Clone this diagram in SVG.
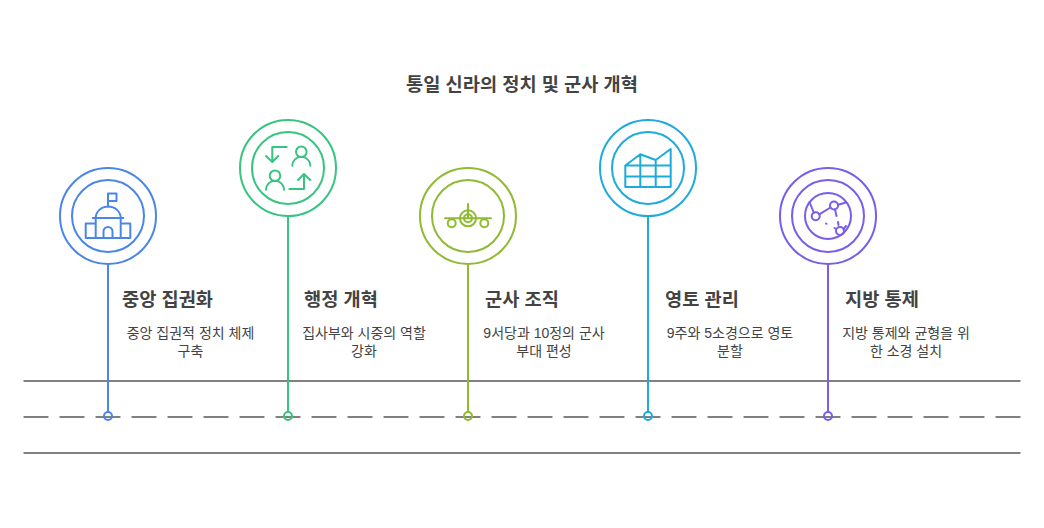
<svg xmlns="http://www.w3.org/2000/svg" width="1044" height="528" viewBox="0 0 1044 528">
<style>
text{font-family:"Liberation Sans","Noto Sans CJK KR",sans-serif;fill:#434343;text-anchor:middle}
.t{font-size:18.67px;font-weight:700}
.h{font-size:18.67px;font-weight:700}
.d{font-size:14px;font-weight:400}
.r{fill:none;stroke:#808080;stroke-width:2}
.o{fill:none;stroke-width:2;stroke-linecap:round;stroke-linejoin:round}
.b{stroke:#4a86e8}.g{stroke:#37c481}.l{stroke:#8fba32}.c{stroke:#1eabdb}.p{stroke:#7a5de8}
.v{stroke-width:2;fill:none}
</style>
<rect width="1044" height="528" fill="#fff"/>
<text class="t" x="522" y="91">통일 신라의 정치 및 군사 개혁</text>
<g id="road">
<path class="r" d="M23.5 381H1020.5M23.5 453H1020.5"/>
<path class="r" d="M23.5 417H1020.5" stroke-dasharray="25 11"/>
</g>
<g id="connectors">
<path class="v b" d="M108 264V412"/>
<path class="v g" d="M288 216V412"/>
<path class="v l" d="M468 264V412"/>
<path class="v c" d="M648 216V412"/>
<path class="v p" d="M828 264V412"/>
</g>
<g id="node1">
<circle class="o b" cx="108" cy="216" r="48"/><circle class="o b" cx="108" cy="216" r="36"/>
<path class="o b" d="M108 206.7V193.5H116.5V201H108M92.7 218H123.3M95.7 218A12.5 11.5 0 0 1 120.7 218V238M95.7 218V238M95.7 223.5H85.7V238H130.3V223.5H120.7M103.5 238V231.5A4.5 4.5 0 0 1 112.5 231.5V238"/>
<circle class="o b" cx="108" cy="416" r="4"/>
<text class="h" x="167.5" y="306">중앙 집권화</text>
<text class="d" x="190.5" y="337.5">중앙 집권적 정치 체제</text>
<text class="d" x="190.5" y="356">구축</text>
</g>
<g id="node2">
<circle class="o g" cx="288" cy="168" r="48"/><circle class="o g" cx="288" cy="168" r="36"/>
<path class="o g" d="M286.7 147H272.3V161.5M266 156L272.3 162L278.3 156M289.3 189H304V174.5M298 180L304 174L310.3 180"/>
<circle class="o g" cx="301.3" cy="151.7" r="5.3"/><path class="o g" d="M292.3 165.7A9 9 0 0 1 310.3 165.7"/>
<circle class="o g" cx="275" cy="175.7" r="5.3"/><path class="o g" d="M266 189.7A9 9 0 0 1 284 189.7"/>
<circle class="o g" cx="288" cy="416" r="4"/>
<text class="h" x="341" y="306">행정 개혁</text>
<text class="d" x="364" y="337.5">집사부와 시중의 역할</text>
<text class="d" x="364" y="356">강화</text>
</g>
<g id="node3">
<circle class="o l" cx="468" cy="216" r="48"/><circle class="o l" cx="468" cy="216" r="36"/>
<path class="o l" d="M468 204V218.3M445 218.3H491"/>
<circle class="o l" cx="468" cy="218.3" r="8"/><circle class="o l" cx="468" cy="218.3" r="4"/>
<circle class="o l" cx="451.7" cy="223.3" r="4"/><circle class="o l" cx="484.3" cy="223.3" r="4"/>
<circle class="o l" cx="468" cy="416" r="4"/>
<text class="h" x="522" y="306">군사 조직</text>
<text class="d" x="544" y="337.5">9서당과 10정의 군사</text>
<text class="d" x="544" y="356">부대 편성</text>
</g>
<g id="node4">
<circle class="o c" cx="648" cy="168" r="48"/><circle class="o c" cx="648" cy="168" r="36"/>
<path class="o c" d="M625.3 165.5L640.3 154.3L655.7 160L670.7 149V187H625.3ZM625.3 165.5H670.7M625.3 176.5H670.7M640.3 154.3V187M655.7 160V187"/>
<circle class="o c" cx="648" cy="416" r="4"/>
<text class="h" x="702" y="306">영토 관리</text>
<text class="d" x="730" y="337.5">9주와 5소경으로 영토</text>
<text class="d" x="730" y="356">분할</text>
</g>
<g id="node5">
<circle class="o p" cx="828" cy="216" r="48"/><circle class="o p" cx="828" cy="216" r="36"/><circle class="o p" cx="828" cy="216" r="23"/>
<circle class="o p" cx="815.7" cy="216.3" r="4"/><circle class="o p" cx="834" cy="205.5" r="4"/><circle class="o p" cx="840" cy="231" r="4"/>
<path class="o p" d="M813.7 212.5L809.5 202M819.2 214.3L830.5 207.5M838 204.7L846 202.5M835 209.5L836.5 216M838.5 225L838 222M843.5 229L846 226M826 223.5L826.5 223.8M834.5 228L835 228.3"/>
<circle class="o p" cx="828" cy="416" r="4"/>
<text class="h" x="882" y="306">지방 통제</text>
<text class="d" x="906" y="337.5">지방 통제와 균형을 위</text>
<text class="d" x="906" y="356">한 소경 설치</text>
</g>
</svg>
